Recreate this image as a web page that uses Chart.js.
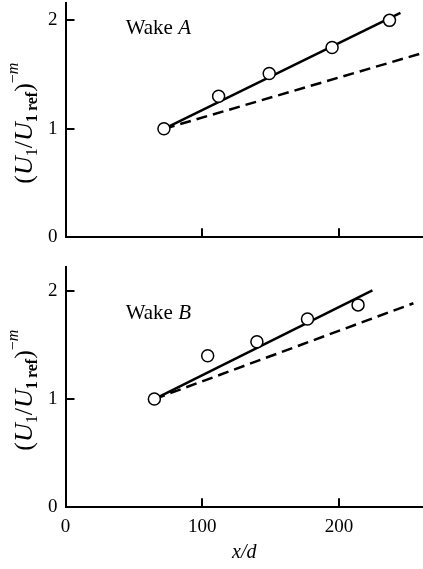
<!DOCTYPE html>
<html><head><meta charset="utf-8">
<script src="https://cdn.jsdelivr.net/npm/chart.js@4"></script>
<style>
html,body{margin:0;padding:0;background:#fff;}
#wrap{position:relative;width:423px;height:569px;overflow:hidden;}
canvas{position:absolute;left:0;}
</style></head><body>
<div id="wrap">
<canvas id="cA" width="423" height="260" style="top:0"></canvas>
<canvas id="cB" width="423" height="309" style="top:260px"></canvas>
</div>
<script>
// ---- data ----
const xTicks = [0, 100, 200];
const yTicks = [0, 1, 2];
const xTickMarks = [100, 200];
const yTickMarks = [1, 2];

const wakeA_x = [72, 112, 149, 195, 237];
const wakeA_y = [1.00, 1.30, 1.51, 1.75, 2.00];
const wakeA_fit_x = [72, 245];
const wakeA_fit_y = [1.00, 2.07];
const wakeA_ref_x = [72, 261.5];
const wakeA_ref_y = [1.00, 1.70];

const wakeB_x = [65, 104, 140, 177, 214];
const wakeB_y = [1.00, 1.40, 1.53, 1.74, 1.87];
const wakeB_fit_x = [65, 224.5];
const wakeB_fit_y = [1.00, 2.005];
const wakeB_ref_x = [65, 254.5];
const wakeB_ref_y = [1.00, 1.885];

const SERIF = '"Liberation Serif", "Times New Roman", serif';
Chart.defaults.font.family = SERIF;
Chart.defaults.color = '#000';

function pts(xs, ys){ return xs.map((x,i)=>({x:x, y:ys[i]})); }

function drawYTitle(ctx, cx, cy){
  const pieces = [
    {t:'(', f:`26px ${SERIF}`, dy:0},
    {t:'U', f:`italic 26px ${SERIF}`, dy:0},
    {t:'1', f:`16px ${SERIF}`, dy:5},
    {t:'/', f:`26px ${SERIF}`, dy:0},
    {t:'U', f:`italic 26px ${SERIF}`, dy:0},
    {t:'1\u2009ref', f:`bold 16px ${SERIF}`, dy:5},
    {t:')', f:`26px ${SERIF}`, dy:0},
    {t:'\u2212', f:`16px ${SERIF}`, dy:-14},
    {t:'m', f:`italic 16px ${SERIF}`, dy:-14}
  ];
  let total = 0;
  pieces.forEach(p=>{ ctx.font = p.f; p.w = ctx.measureText(p.t).width; total += p.w; });
  ctx.save();
  ctx.translate(cx, cy);
  ctx.rotate(-Math.PI/2);
  ctx.fillStyle = '#000';
  ctx.textBaseline = 'alphabetic';
  ctx.textAlign = 'left';
  let x = -total/2;
  pieces.forEach(p=>{ ctx.font = p.f; ctx.fillText(p.t, x, p.dy); x += p.w; });
  ctx.restore();
}

const decor = {
  id: 'decor',
  afterDraw(chart){
    const o = chart.options.plugins.decor;
    const {ctx, chartArea} = chart;
    const xs = chart.scales.x, ys = chart.scales.y;
    ctx.save();
    ctx.strokeStyle = '#000';
    ctx.lineWidth = 2;
    ctx.beginPath();
    xTickMarks.forEach(v=>{
      const px = Math.round(xs.getPixelForValue(v));
      ctx.moveTo(px, chartArea.bottom);
      ctx.lineTo(px, chartArea.bottom - 9);
    });
    yTickMarks.forEach(v=>{
      const py = Math.round(ys.getPixelForValue(v));
      ctx.moveTo(chartArea.left, py);
      ctx.lineTo(chartArea.left + 9, py);
    });
    ctx.stroke();
    // wake label
    const lx = xs.getPixelForValue(o.labelX), ly = ys.getPixelForValue(o.labelY);
    ctx.fillStyle = '#000';
    ctx.textBaseline = 'alphabetic';
    ctx.textAlign = 'left';
    ctx.font = `21px ${SERIF}`;
    const w1 = ctx.measureText(o.word).width;
    ctx.fillText(o.word, lx, ly);
    ctx.font = `italic 21px ${SERIF}`;
    ctx.fillText(o.letter, lx + w1, ly);
    ctx.restore();
    drawYTitle(ctx, 32, (chartArea.top + chartArea.bottom)/2 + 3);
  }
};

function makeChart(id, d){
  return new Chart(document.getElementById(id), {
    type: 'scatter',
    data: {
      datasets: [
        {data: pts(d.px, d.py), showLine:false, pointRadius:6, pointBorderWidth:1.5,
         pointBorderColor:'#000', pointBackgroundColor:'#fff', order:0},
        {data: pts(d.fx, d.fy), showLine:true, pointRadius:0, borderColor:'#000',
         borderWidth:2.5, fill:false, clip:false, order:1},
        {data: pts(d.rx, d.ry), showLine:true, pointRadius:0, borderColor:'#000',
         borderWidth:2.5, borderDash:[11,6], fill:false, clip:false, order:2}
      ]
    },
    options: {
      responsive:false, animation:false,
      layout:{autoPadding:false, padding:{top:d.padTop, left:0, right:0, bottom:0}},
      plugins:{legend:{display:false}, tooltip:{enabled:false},
        decor:{word:'Wake ', letter:d.letter, labelX:44, labelY:d.labelY}},
      scales:{
        x:{type:'linear', min:0, max:261.5,
          afterBuildTicks(s){ s.ticks = xTicks.map(v=>({value:v})); },
          afterFit(s){ s.height = d.xHeight; s.paddingLeft = 0; s.paddingRight = 0; },
          grid:{display:true, drawOnChartArea:false, drawTicks:false},
          border:{display:true, color:'#000', width:2},
          ticks:{display:d.showX, padding:8, font:{size:19, family:SERIF}, color:'#000', maxRotation:0, autoSkip:false},
          title:{display:d.showX, text:'x/d', font:{size:20, style:'italic', family:SERIF}, color:'#000', padding:{top:0, bottom:4}}
        },
        y:{type:'linear', min:0, max:d.yMax,
          afterBuildTicks(s){ s.ticks = yTicks.map(v=>({value:v})); },
          afterFit(s){ s.width = 65.5; s.paddingTop = 0; s.paddingBottom = 0; },
          grid:{display:true, drawOnChartArea:false, drawTicks:false},
          border:{display:true, color:'#000', width:2},
          ticks:{padding:8, font:{size:19, family:SERIF}, color:'#000'}
        }
      }
    },
    plugins:[decor]
  });
}

makeChart('cA', {px:wakeA_x, py:wakeA_y, fx:wakeA_fit_x, fy:wakeA_fit_y, rx:wakeA_ref_x, ry:wakeA_ref_y,
  padTop:3, yMax:2.16, xHeight:22.7, showX:false, letter:'A', labelY:1.87});
makeChart('cB', {px:wakeB_x, py:wakeB_y, fx:wakeB_fit_x, fy:wakeB_fit_y, rx:wakeB_ref_x, ry:wakeB_ref_y,
  padTop:7, yMax:2.22, xHeight:61.7, showX:true, letter:'B', labelY:1.74});
</script>
</body></html>
